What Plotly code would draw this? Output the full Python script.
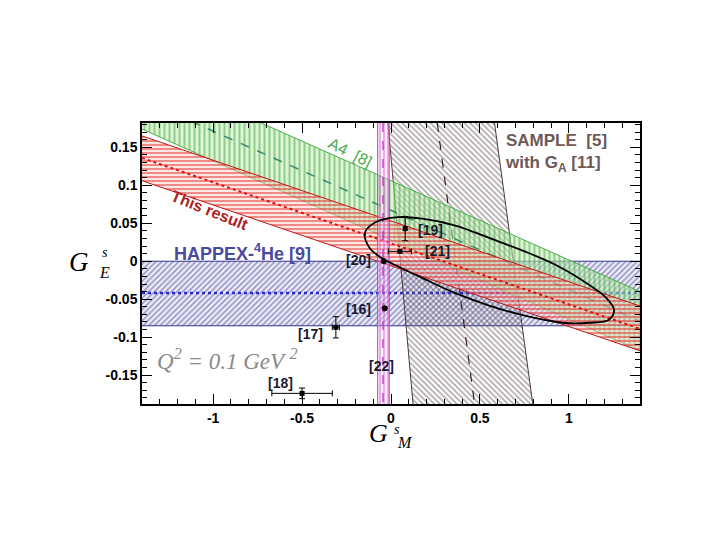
import plotly.graph_objects as go

# axis limits (G_M horizontally, G_E vertically)
GM_RANGE = [-1.4, 1.4]
GE_RANGE = [-0.188, 0.182]

# sloped bands: G_E values of each edge read at G_M = -1.4 and G_M = +1.4
RED_UPPER = [0.165, -0.059]
RED_CENTER = [0.136, -0.089]
RED_LOWER = [0.106, -0.118]

A4_UPPER = [0.252, -0.040]
A4_CENTER = [0.213, -0.079]
A4_LOWER = [0.174, -0.118]

# HAPPEX-4He band: horizontal
HE_UPPER = [0.0, 0.0]
HE_CENTER = [-0.042, -0.042]
HE_LOWER = [-0.085, -0.085]

# SAMPLE band: G_M values of each edge read at G_E = top and G_E = bottom
SAMPLE_LEFT = [-0.017, 0.124]
SAMPLE_CENTER = [0.26, 0.47]
SAMPLE_RIGHT = [0.582, 0.797]

# [22]: vertical band
PV_LEFT = [-0.075, -0.075]
PV_CENTER = [-0.045, -0.045]
PV_RIGHT = [-0.01, -0.01]

# combined 95% contour
ELL_GM = [-0.147, -0.090, 0.040, 0.175, 0.362, 0.548, 0.740, 0.927, 1.113, 1.209,
          1.254, 1.226, 1.113, 0.966, 0.740, 0.548, 0.362, 0.175, 0.023, -0.051,
          -0.119, -0.147]
ELL_GE = [0.037, 0.051, 0.058, 0.056, 0.047, 0.031, 0.014, -0.005, -0.031, -0.048,
          -0.064, -0.077, -0.081, -0.081, -0.071, -0.058, -0.042, -0.022, -0.005, 0.004,
          0.017, 0.037]

# other measurements
PT_NAMES = ["[19]", "[21]", "[20]", "[16]", "[17]", "[18]"]
PT_GM = [0.08, 0.05, -0.04, -0.035, -0.31, -0.50]
PT_GE = [0.043, 0.013, 0.0, -0.062, -0.087, -0.174]
PT_GM_ERR = [0.0, 0.065, 0.0, 0.0, 0.02, 0.17]
PT_GE_ERR = [0.016, 0.0, 0.0, 0.0, 0.014, 0.007]
LBL_GM = [0.22, 0.26, -0.18, -0.18, -0.45, -0.62, -0.056]
LBL_GE = [0.041, 0.013, 0.001, -0.063, -0.096, -0.161, -0.138]
LBL_TEXT = PT_NAMES + ["[22]"]

XTICK_VALS = [-1, -0.5, 0, 0.5, 1]
XTICK_TEXT = ["-1", "-0.5", "0", "0.5", "1"]
YTICK_VALS = [-0.15, -0.1, -0.05, 0, 0.05, 0.1, 0.15]
YTICK_TEXT = ["-0.15", "-0.1", "-0.05", "0", "0.05", "0.1", "0.15"]

fig = go.Figure()


def sloped_band(upper, center, lower, fg, bg, shape, size, solid, edge, mid, midwidth, middash):
    xs = GM_RANGE + GM_RANGE[::-1]
    ys = upper + lower[::-1]
    fig.add_trace(go.Scatter(x=xs, y=ys, fill="toself", mode="none", fillcolor=bg,
                             fillpattern=dict(shape=shape, fgcolor=fg, bgcolor=bg,
                                              size=size, solidity=solid),
                             hoverinfo="skip", showlegend=False))
    for e in (upper, lower):
        fig.add_trace(go.Scatter(x=GM_RANGE, y=e, mode="lines", line=dict(color=edge, width=1),
                                 hoverinfo="skip", showlegend=False))
    fig.add_trace(go.Scatter(x=GM_RANGE, y=center, mode="lines",
                             line=dict(color=mid, width=midwidth, dash=middash),
                             hoverinfo="skip", showlegend=False))


def upright_band(left, center, right, fg, bg, shape, size, solid, edge, mid, middash):
    ys = [GE_RANGE[1], GE_RANGE[0]]
    fig.add_trace(go.Scatter(x=left + right[::-1], y=ys + ys[::-1], fill="toself", mode="none",
                             fillcolor=bg,
                             fillpattern=dict(shape=shape, fgcolor=fg, bgcolor=bg,
                                              size=size, solidity=solid),
                             hoverinfo="skip", showlegend=False))
    for e in (left, right):
        fig.add_trace(go.Scatter(x=e, y=ys, mode="lines", line=dict(color=edge, width=1),
                                 hoverinfo="skip", showlegend=False))
    fig.add_trace(go.Scatter(x=center, y=ys, mode="lines",
                             line=dict(color=mid, width=1.2, dash=middash),
                             hoverinfo="skip", showlegend=False))


sloped_band(HE_UPPER, HE_CENTER, HE_LOWER, "#3e3e92", "rgba(222,222,244,0.55)", "/", 4, 0.4,
            "#34348a", "#2a2ad0", 2.5, "dot")
upright_band(SAMPLE_LEFT, SAMPLE_CENTER, SAMPLE_RIGHT, "#5e5050", "rgba(255,255,255,0)", "\\", 4,
             0.4, "#4a3a3a", "#3a2020", "dash")
sloped_band(A4_UPPER, A4_CENTER, A4_LOWER, "#45a845", "rgba(192,236,178,0.55)", "|", 5, 0.4,
            "#4cae4c", "#3a8a6a", 1.5, "dash")
sloped_band(RED_UPPER, RED_CENTER, RED_LOWER, "#dd1818", "rgba(250,208,200,0.5)", "-", 4, 0.45,
            "#c01818", "#dd1010", 2, "dot")
upright_band(PV_LEFT, PV_CENTER, PV_RIGHT, "#cc33cc", "rgba(245,215,245,0.35)", "|", 4, 0.35,
             "#cc33cc", "#b030b0", "dash")

# ellipse
fig.add_trace(go.Scatter(x=ELL_GM, y=ELL_GE, mode="lines",
                         line=dict(color="black", width=1.8, shape="spline", smoothing=1.0),
                         hoverinfo="skip", showlegend=False))

# data points
fig.add_trace(go.Scatter(
    x=PT_GM, y=PT_GE, mode="markers",
    marker=dict(color="black", size=5, symbol="square"),
    error_x=dict(type="data", array=PT_GM_ERR, color="black", thickness=1, width=3),
    error_y=dict(type="data", array=PT_GE_ERR, color="black", thickness=1, width=3),
    hoverinfo="skip", showlegend=False))

for t, gx, gy in zip(LBL_TEXT, LBL_GM, LBL_GE):
    fig.add_annotation(x=gx, y=gy, text=t, showarrow=False,
                       font=dict(family="Liberation Sans", size=14, color="#1a1a30",
                                 weight="bold"))

fig.add_annotation(x=-0.23, y=0.143, text="A4  [8]", showarrow=False, textangle=27,
                   font=dict(family="Liberation Sans", size=16, color="#4cae4c"))
fig.add_annotation(x=-1.017, y=0.067, text="This result", showarrow=False, textangle=22,
                   font=dict(family="Liberation Sans", size=16, color="#b02020",
                             weight="bold"))
fig.add_annotation(x=-0.836, y=0.011, text="HAPPEX-<sup>4</sup>He [9]", showarrow=False,
                   font=dict(family="Liberation Sans", size=18, color="#4a4aa0", weight="bold"))
fig.add_annotation(x=0.63, y=0.143, text="SAMPLE  [5]<br>with G<sub>A</sub> [11]",
                   showarrow=False, xanchor="left", align="left",
                   font=dict(family="Liberation Sans", size=17, color="#6e5858", weight="bold"))
fig.add_annotation(x=-0.92, y=-0.13, text="Q<sup>2</sup> = 0.1 GeV <sup>2</sup>",
                   showarrow=False,
                   font=dict(family="Liberation Serif", size=23, color="#8a8a8a",
                             style="italic"))

# axis titles drawn as G with stacked indices
serif = dict(family="Liberation Serif", color="black", style="italic")
titles = [
    ("G", -0.126, 0.505, 27), ("s", -0.074, 0.54, 14), ("E", -0.076, 0.468, 16),
    ("G", 0.474, -0.105, 26), ("s", 0.512, -0.092, 14), ("M", 0.528, -0.136, 16),
]
for t, px, py, sz in titles:
    fig.add_annotation(xref="paper", yref="paper", x=px, y=py, text=t, showarrow=False,
                       xanchor="center", yanchor="middle", font=dict(size=sz, **serif))

axis_common = dict(showgrid=False, zeroline=False, showline=True, linecolor="black",
                   linewidth=1.5, mirror="allticks", ticks="inside", ticklen=10,
                   tickcolor="black", tickwidth=1,
                   tickfont=dict(family="Liberation Sans", size=14, color="black",
                                 weight="bold"))
fig.update_xaxes(range=GM_RANGE, tickmode="array", tickvals=XTICK_VALS, ticktext=XTICK_TEXT,
                 minor=dict(tickmode="linear", tick0=0, dtick=0.1, ticks="inside",
                            ticklen=5, tickcolor="black"),
                 **axis_common)
fig.update_yaxes(range=GE_RANGE, tickmode="array", tickvals=YTICK_VALS, ticktext=YTICK_TEXT,
                 minor=dict(tickmode="linear", tick0=0, dtick=0.01, ticks="inside",
                            ticklen=5, tickcolor="black"),
                 **axis_common)
fig.update_layout(width=708, height=545, margin=dict(l=134, r=76, t=115, b=149),
                  paper_bgcolor="white", plot_bgcolor="white", showlegend=False)

fig.write_html("out.html")
